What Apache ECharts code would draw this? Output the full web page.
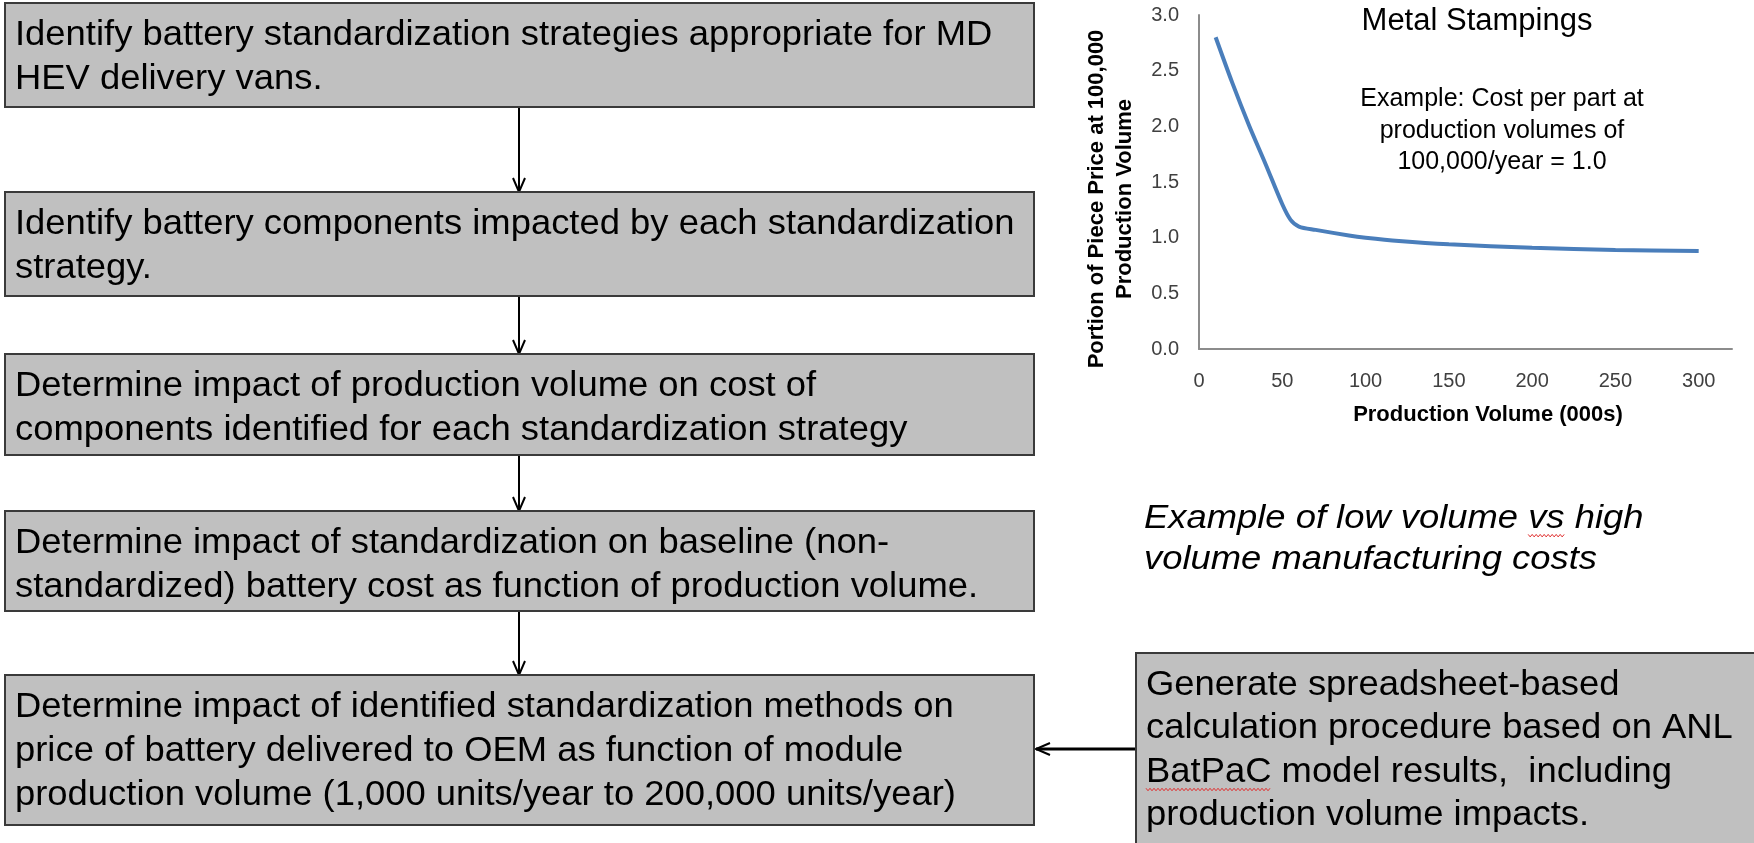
<!DOCTYPE html>
<html>
<head>
<meta charset="utf-8">
<title>Metal Stampings</title>
<script src="https://cdn.jsdelivr.net/npm/echarts@6/dist/echarts.min.js"></script>
<style>
  html, body { margin: 0; padding: 0; background: #fff; }
  #main { width: 1754px; height: 843px; }
</style>
</head>
<body>
<div id="main"></div>
<script>
// production volume (000s) and portion of piece price at 100,000
var volumes = [10, 20, 30, 40, 50, 55, 60, 70, 90, 100, 120, 150, 200, 250, 300];
var costFactor = [2.80, 2.39, 2.01, 1.66, 1.30, 1.16, 1.10, 1.07, 1.02, 1.00, 0.97, 0.94, 0.91, 0.89, 0.88];
var xTicks = [0, 50, 100, 150, 200, 250, 300];
var yTicks = [0, 0.5, 1.0, 1.5, 2.0, 2.5, 3.0];

var chartTitle = 'Metal Stampings';
var noteLines = ['Example: Cost per part at', 'production volumes of', '100,000/year = 1.0'];
var yNameLines = ['Portion of Piece Price at 100,000', 'Production Volume'];
var xName = 'Production Volume (000s)';

// flow chart steps
var steps = [
    ['Identify battery standardization strategies appropriate for MD', 'HEV delivery vans.'],
    ['Identify battery components impacted by each standardization', 'strategy.'],
    ['Determine impact of production volume on cost of', 'components identified for each standardization strategy'],
    ['Determine impact of standardization on baseline (non-', 'standardized) battery cost as function of production volume.'],
    ['Determine impact of identified standardization methods on', 'price of battery delivered to OEM as function of module', 'production volume (1,000 units/year to 200,000 units/year)']
];
var sideStep = ['Generate spreadsheet-based', 'calculation procedure based on ANL', 'BatPaC model results,  including', 'production volume impacts.'];
var caption = ['Example of low volume vs high', 'volume manufacturing costs'];

var FONT = '"Liberation Sans", Arial, sans-serif';
var BOX_SIZE = 35, BOX_SX = 1.04;
var stepTops = [3, 192, 354, 511, 675];
var stepHeights = [104, 104, 101, 100, 150];

var graphics = [];
var ctx = document.createElement('canvas').getContext('2d');
function textWidth(str, font) {
    ctx.font = font;
    return ctx.measureText(str).width;
}

// red spell-check squiggle
function squiggle(x, y, w) {
    var pts = [];
    for (var k = 0; k <= w; k += 2) {
        pts.push([x + k, y + ((k / 2) % 2 ? 1.5 : -1)]);
    }
    graphics.push({
        type: 'polyline', z: 12,
        shape: { points: pts },
        style: { stroke: '#e03030', lineWidth: 1, fill: null }
    });
}

function boxWithText(x, y, w, h, lines, lh) {
    graphics.push({
        type: 'rect', z: 10,
        shape: { x: x, y: y, width: w, height: h },
        style: { fill: '#c0c0c0', stroke: '#3a3a3a', lineWidth: 2 }
    });
    graphics.push({
        type: 'text', z: 11, x: x + 10, y: y + 32 - lh / 2, scaleX: BOX_SX,
        style: {
            text: lines.join('\n'), fill: '#000', fontSize: BOX_SIZE, fontFamily: FONT,
            lineHeight: lh, align: 'left', verticalAlign: 'top'
        }
    });
}

function arrow(x1, y1, x2, y2, w) {
    var ang = Math.atan2(y2 - y1, x2 - x1);
    var len = 14, half = 6;
    var bx = x2 - len * Math.cos(ang), by = y2 - len * Math.sin(ang);
    var px = -Math.sin(ang) * half, py = Math.cos(ang) * half;
    graphics.push({
        type: 'line', z: 9,
        shape: { x1: x1, y1: y1, x2: x2, y2: y2 },
        style: { stroke: '#000', lineWidth: w }
    });
    graphics.push({
        type: 'polyline', z: 9,
        shape: { points: [[bx + px, by + py], [x2, y2], [bx - px, by - py]] },
        style: { stroke: '#000', lineWidth: 2, fill: null }
    });
}

for (var i = 0; i < steps.length; i++) {
    boxWithText(5, stepTops[i], 1029, stepHeights[i], steps[i], 44);
    if (i > 0) {
        arrow(519, stepTops[i - 1] + stepHeights[i - 1], 519, stepTops[i], 2);
    }
}
boxWithText(1136, 653, 640, 220, sideStep, 43.5);
arrow(1135, 749, 1036, 749, 3);
// squiggle under "BatPaC" (third line of the side box)
var boxFont = BOX_SIZE + 'px ' + FONT;
squiggle(1146, 653 + 32 + 2 * 43.5 + 0.35 * BOX_SIZE + 5, textWidth('BatPaC', boxFont) * BOX_SX);

// italic caption
var capSize = 34, capSX = 1.07, capTop = 498;
graphics.push({
    type: 'text', x: 1144, y: capTop, scaleX: capSX,
    style: {
        text: caption.join('\n'), fill: '#000', fontSize: capSize, fontStyle: 'italic',
        fontFamily: FONT, lineHeight: 41, align: 'left', verticalAlign: 'top'
    }
});
var capFont = 'italic ' + capSize + 'px ' + FONT;
squiggle(1144 + textWidth('Example of low volume ', capFont) * capSX,
    capTop + 20.5 + 0.35 * capSize + 5, textWidth('vs', capFont) * capSX);

// chart title, note and axis names
graphics.push({
    type: 'text', x: 1477, y: 21,
    style: { text: chartTitle, fill: '#000', fontSize: 31, fontFamily: FONT, align: 'center', verticalAlign: 'middle' }
});
graphics.push({
    type: 'text', x: 1502, y: 99 - 15.5,
    style: {
        text: noteLines.join('\n'), fill: '#000', fontSize: 25, fontFamily: FONT,
        lineHeight: 31.5, align: 'center', verticalAlign: 'top'
    }
});
graphics.push({
    type: 'text', x: 1097, y: 199, rotation: Math.PI / 2,
    style: { text: yNameLines[0], fill: '#000', fontSize: 22, fontWeight: 'bold', fontFamily: FONT, align: 'center', verticalAlign: 'middle' }
});
graphics.push({
    type: 'text', x: 1125, y: 199, rotation: Math.PI / 2,
    style: { text: yNameLines[1], fill: '#000', fontSize: 22, fontWeight: 'bold', fontFamily: FONT, align: 'center', verticalAlign: 'middle' }
});
graphics.push({
    type: 'text', x: 1488, y: 415,
    style: { text: xName, fill: '#000', fontSize: 22, fontWeight: 'bold', fontFamily: FONT, align: 'center', verticalAlign: 'middle' }
});

var myChart = echarts.init(document.getElementById('main'));
var option = {
    backgroundColor: '#fff',
    animation: false,
    grid: { left: 1199, top: 15, width: 533, height: 334 },
    xAxis: {
        type: 'value', min: 0, max: 320, interval: 50,
        axisLine: { show: true, lineStyle: { color: '#8c8c8c', width: 2 } },
        axisTick: { show: false },
        splitLine: { show: false },
        axisLabel: {
            margin: 22, color: '#404040', fontSize: 20, fontFamily: FONT,
            formatter: function (v) { return xTicks.indexOf(v) >= 0 ? String(v) : ''; }
        }
    },
    yAxis: {
        type: 'value', min: 0, max: 3, interval: 0.5,
        axisLine: { show: true, lineStyle: { color: '#8c8c8c', width: 2 } },
        axisTick: { show: false },
        splitLine: { show: false },
        axisLabel: {
            margin: 20, color: '#404040', fontSize: 20, fontFamily: FONT,
            formatter: function (v) { return yTicks.indexOf(v) >= 0 ? v.toFixed(1) : ''; }
        }
    },
    series: [{
        type: 'line',
        data: volumes.map(function (v, i) { return [v, costFactor[i]]; }),
        smooth: 0.3,
        showSymbol: false,
        lineStyle: { color: '#4a7ebb', width: 4 }
    }],
    graphic: graphics
};
myChart.setOption(option);
</script>
</body>
</html>
